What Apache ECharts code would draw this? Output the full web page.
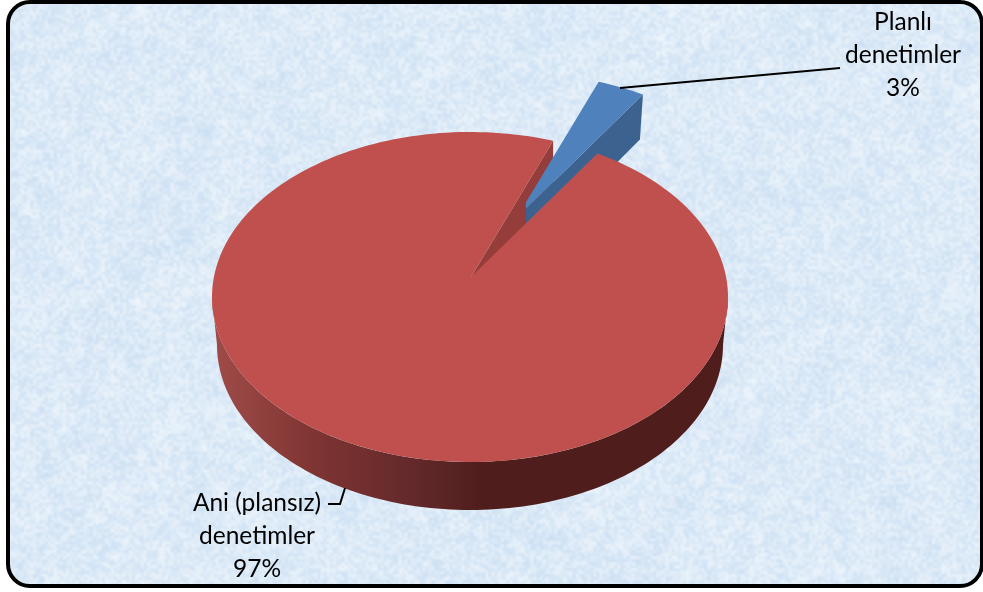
<!DOCTYPE html>
<html>
<head>
<meta charset="utf-8">
<style>html,body{margin:0;padding:0;background:#fff}#c{width:983px;height:592px}</style>
<script src="https://cdn.jsdelivr.net/npm/echarts@6/dist/echarts.min.js"></script>
</head>
<body>
<div id="c"></div>
<script>
var categories = ['Planlı\ndenetimler', 'Ani (plansız)\ndenetimler'];
var values = [3, 97];
var sliceColors = ['#4f81bd', '#c0504d'];

// Projection of the tilted pie
var TOP = { cx: 470, cy: 297, rx: 258, ry: 165 };
var BOTTOM = { cx: 470, cy: 345, rx: 253, ry: 165 };
var APEX = [471, 277];
var FIRST_ANGLE = 18.8;
var EXPLODE = [45.5, -59];
var DEPTH = [-3, 45];
var CLIP_X = 526;
var LABEL_FONT = '24.5px Lato, "Open Sans", sans-serif';

function ell(e, deg) {
  var a = deg * Math.PI / 180;
  return [e.cx + e.rx * Math.sin(a), e.cy - e.ry * Math.cos(a)];
}
function arc(e, a0, a1) {
  var pts = [], n = Math.max(2, Math.ceil(Math.abs(a1 - a0) / 1.5));
  for (var i = 0; i <= n; i++) pts.push(ell(e, a0 + (a1 - a0) * i / n));
  return pts;
}
function shift(p, d) { return [p[0] + d[0], p[1] + d[1]]; }
function atX(p, q, x) { return [x, p[1] + (q[1] - p[1]) * (x - p[0]) / (q[0] - p[0])]; }

function makeTexture() {
  var W = 983, H = 592;
  var seed = 12345;
  function rnd() { seed = (seed * 1664525 + 1013904223) >>> 0; return seed / 4294967296; }
  function layer(scale, amp) {
    var w = Math.ceil(W / scale), h = Math.ceil(H / scale);
    var c = document.createElement('canvas'); c.width = w; c.height = h;
    var x = c.getContext('2d'), d = x.createImageData(w, h);
    for (var i = 0; i < w * h; i++) {
      var v = rnd(), light = v > 0.5;
      d.data[i * 4] = light ? 255 : 186;
      d.data[i * 4 + 1] = light ? 255 : 212;
      d.data[i * 4 + 2] = light ? 255 : 238;
      d.data[i * 4 + 3] = Math.abs(v - 0.5) * 2 * amp * 255;
    }
    x.putImageData(d, 0, 0);
    return c;
  }
  var cv = document.createElement('canvas'); cv.width = W; cv.height = H;
  var g = cv.getContext('2d');
  g.beginPath();
  g.roundRect(7, 3, 975, 583, 22);
  g.clip();
  g.fillStyle = '#dceaf7';
  g.fillRect(0, 0, W, H);
  g.imageSmoothingEnabled = true;
  g.imageSmoothingQuality = 'high';
  g.drawImage(layer(36, 0.14), 0, 0, W, H);
  g.drawImage(layer(10, 0.22), 0, 0, W, H);
  g.drawImage(layer(3, 0.35), 0, 0, W, H);
  return cv;
}

var total = values.reduce(function (a, b) { return a + b; }, 0);
var sweeps = values.map(function (v) { return v / total * 360; });

function renderSlice(params, api) {
  var i = params.dataIndex;
  var pct = Math.round(api.value(0) / total * 100) + '%';
  var children = [];
  var a0 = FIRST_ANGLE, a1 = FIRST_ANGLE + sweeps[0];
  if (i === 0) {
    var rimL = shift(ell(TOP, a0), EXPLODE), rimR = shift(ell(TOP, a1), EXPLODE);
    var apex = shift(APEX, EXPLODE);
    var cutL = atX(apex, rimL, CLIP_X), cutR = atX(apex, rimR, CLIP_X);
    var rim = arc(TOP, a0, a1).map(function (p) { return shift(p, EXPLODE); });
    // side of the pulled-out slice
    children.push({ type: 'polygon', z2: 2, shape: { points: [cutR, rimR, shift(rimR, DEPTH), [CLIP_X, cutR[1] + 45]] }, style: { fill: '#3c6390' } });
    children.push({ type: 'polygon', z2: 3, shape: { points: [cutL].concat(rim).concat([cutR]) }, style: { fill: sliceColors[0] } });
    children.push({ type: 'polyline', z2: 6, shape: { points: [[620, 88], [840, 68]] }, style: { stroke: '#000', lineWidth: 2, fill: null } });
    children.push({ type: 'text', z2: 7, style: { x: 903, y: 55, text: categories[0] + '\n' + pct, fill: '#000', align: 'center', verticalAlign: 'middle', font: LABEL_FONT, lineHeight: 33 } });
  } else {
    var b0 = a1, b1 = a1 + sweeps[1];
    // rim side: lower ellipse, from the right extreme round the front to the left extreme
    var side = arc(TOP, 90, 270).concat(arc(BOTTOM, 270, 90));
    children.push({
      type: 'polygon', z2: 1, shape: { points: side },
      style: { fill: { type: 'linear', x: 0, y: 0, x2: 1, y2: 0, colorStops: [
        { offset: 0, color: '#a04c49' }, { offset: 0.2, color: '#7e3432' }, { offset: 0.4, color: '#62282a' }, { offset: 0.52, color: '#4f1e1c' }, { offset: 1, color: '#4f1e1c' }
      ] } }
    });
    // inner wall of the gap
    var wallTop = ell(TOP, FIRST_ANGLE);
    children.push({ type: 'polygon', z2: 1, shape: { points: [wallTop, [wallTop[0], wallTop[1] + 90], APEX] }, style: { fill: '#953d3a' } });
    // top face
    children.push({ type: 'polygon', z2: 4, shape: { points: [APEX].concat(arc(TOP, b0, b1)) }, style: { fill: sliceColors[1] } });
    children.push({ type: 'polyline', z2: 6, shape: { points: [[328, 504], [340, 504], [345, 488]] }, style: { stroke: '#000', lineWidth: 2, fill: null } });
    children.push({ type: 'text', z2: 7, style: { x: 257, y: 536, text: categories[1] + '\n' + pct, fill: '#000', align: 'center', verticalAlign: 'middle', font: LABEL_FONT, lineHeight: 33 } });
  }
  return { type: 'group', children: children };
}

var chart = echarts.init(document.getElementById('c'), null, { renderer: 'canvas' });
chart.setOption({
  animation: false,
  backgroundColor: '#ffffff',
  graphic: [
    { type: 'image', z: -10, silent: true, style: { image: makeTexture(), x: 0, y: 0, width: 983, height: 592 } },
    { type: 'rect', z: 10, silent: true, shape: { x: 8, y: 2, width: 974, height: 584, r: 22 }, style: { fill: null, stroke: '#000', lineWidth: 4 } }
  ],
  series: [{
    type: 'custom',
    coordinateSystem: 'none',
    renderItem: renderSlice,
    data: values.map(function (v, i) { return { name: categories[i], value: [v] }; })
  }]
});
</script>
</body>
</html>
